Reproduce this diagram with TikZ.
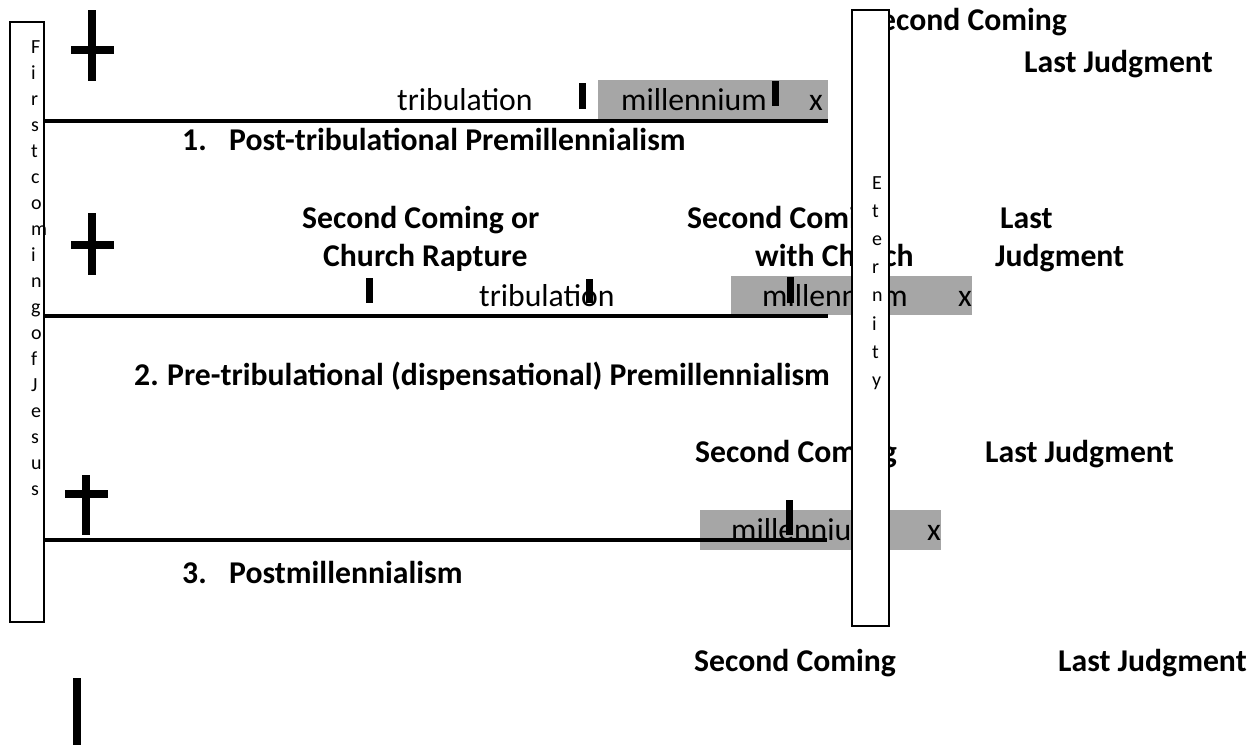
\documentclass[tikz,border=0pt]{standalone}
\usepackage{fontspec}
\setmainfont{Carlito}
\definecolor{millgray}{RGB}{166,166,166}

\begin{document}
\begin{tikzpicture}[x=1pt,y=-1pt,
    lbl/.style={inner sep=0pt,anchor=base west,font=\fontsize{31.7}{38}\selectfont},
    hdg/.style={lbl,font=\fontsize{31.7}{38}\selectfont\bfseries},
    ltr/.style={inner sep=0pt,anchor=base west,font=\fontsize{20}{24}\selectfont},
    timeline/.style={line width=3.6pt},
    notch/.style={line width=7pt},
    beam/.style={line width=8.5pt},
    sidebox/.style={draw,line width=1.8pt,fill=white}]
        \useasboundingbox (0,0) rectangle (1259,745);

        % Grey millennium bands
        \fill[millgray] (598,80) rectangle (828,119);
        \fill[millgray] (731,276) rectangle (972,315);
        \fill[millgray] (700,510) rectangle (941,550);

        % 1. Post-tribulational Premillennialism
        \node[lbl] (trib1) at (397,110) {tribulation};
        \node[lbl] (mill1) at (621,110) {millennium};
        \node[lbl] (end1) at (809,110) {x};
        \node[hdg] (num1) at (182,150) {1.};
        \node[hdg] (title1) at (229,150) {Post-tribulational Premillennialism};
        \node[hdg] (coming1) at (865,30) {Second Coming};
        \node[hdg] (judg1) at (1024,72) {Last Judgment};

        % 2. Pre-tribulational (dispensational) Premillennialism
        \node[hdg] (rapture2) at (302,228) {Second Coming or};
        \node[hdg] (rapture2b) at (323,266) {Church Rapture};
        \node[hdg] (coming2) at (687,228) {Second Coming};
        \node[hdg] (coming2b) at (755,266) {with Church};
        \node[hdg] (judg2) at (1000,228) {Last};
        \node[hdg] (judg2b) at (995,266) {Judgment};
        \node[lbl] (trib2) at (479,306) {tribulation};
        \node[lbl] (mill2) at (762,306) {millennium};
        \node[lbl] (end2) at (958,306) {x};
        \node[hdg] (num2) at (134,385) {2.};
        \node[hdg] (title2) at (167,385) {Pre-tribulational (dispensational) Premillennialism};

        % 3. Postmillennialism
        \node[hdg] (coming3) at (695,462) {Second Coming};
        \node[hdg] (judg3) at (985,462) {Last Judgment};
        \node[lbl] (mill3) at (731,540) {millennium};
        \node[lbl] (end3) at (927,540) {x};
        \node[hdg] (num3) at (182,583) {3.};
        \node[hdg] (title3) at (229,583) {Postmillennialism};

        % Bottom labels
        \node[hdg] (coming4) at (694,671) {Second Coming};
        \node[hdg] (judg4) at (1058,671) {Last Judgment};

        % Time lines
        \draw[timeline] (44,121) -- (828,121);
        \draw[timeline] (44,316) -- (828,316);
        \draw[timeline] (44,540) -- (827,540);

        % Event marks
        \draw[notch] (582,83) -- (582,109);
        \draw[notch] (775,81) -- (775,106);
        \draw[notch] (369,278) -- (369,303);
        \draw[notch] (589,279) -- (589,303);
        \draw[notch] (790,277) -- (790,303);
        \draw[notch] (789,500) -- (789,535);

        % Crosses
        \draw[beam] (92,10) -- (92,81);
        \draw[beam] (71,50) -- (114,50);
        \draw[beam] (92,213) -- (92,275);
        \draw[beam] (71,245) -- (114,245);
        \draw[beam] (86,475) -- (86,535);
        \draw[beam] (65,494) -- (108,494);
        \draw[beam] (77,678) -- (77,745);

        % First coming and eternity columns
        \draw[sidebox] (10,22) rectangle (44,622);
        \draw[sidebox] (852,10) rectangle (889,626);
        \foreach \c [count=\i from 0] in {F,i,r,s,t,c,o,m,i,n,g,o,f,J,e,s,u,s}
            \node[ltr] (first\i) at (31,{53+26*\i}) {\c};
        \foreach \c [count=\i from 0] in {E,t,e,r,n,i,t,y}
            \node[ltr] (etern\i) at (872,{189+28.2*\i}) {\c};
      \end{tikzpicture}
\end{document}
